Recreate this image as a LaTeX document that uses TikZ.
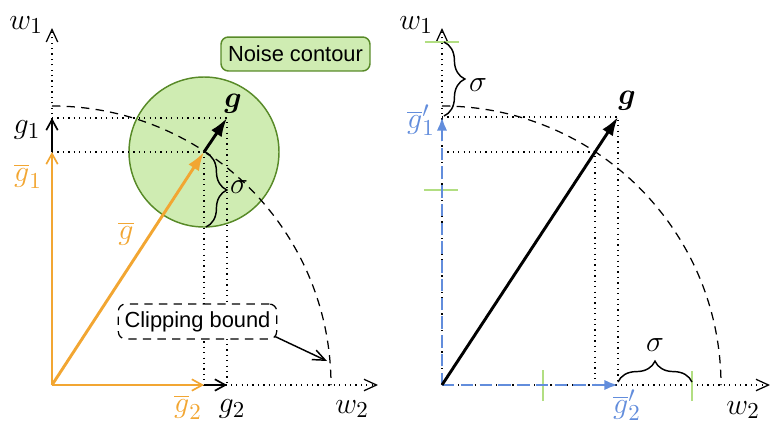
\documentclass[tikz,border=0pt]{standalone}
\usepackage{fontspec}
\usepackage{bm}
\newfontfamily\labelsans{Liberation Sans}
\usetikzlibrary{arrows.meta,decorations.pathreplacing}
\definecolor{gorange}{RGB}{242,166,50}
\definecolor{gblue}{RGB}{98,141,220}
\definecolor{nfill}{RGB}{207,236,178}
\definecolor{nborder}{RGB}{88,138,40}
\definecolor{tickgreen}{RGB}{178,222,130}
\begin{document}
\begin{tikzpicture}[x=0.48pt,y=0.48pt,
  axis/.style={line width=0.6pt, dotted, -{Straight Barb[length=6pt,width=5.5pt]}},
  guide/.style={line width=0.6pt, dotted},
  bound/.style={line width=0.6pt, dash pattern=on 4pt off 3pt},
  comp/.style={line width=0.8pt, -{Straight Barb[length=5pt,width=5.5pt]}},
  vec/.style={line width=1.4pt, -{Latex[length=9pt,width=6pt]}},
  bluevec/.style={gblue, line width=1.4pt, dash pattern=on 6pt off 3pt, -{Latex[length=6.5pt,width=5pt]}},
  ticker/.style={tickgreen, line width=1.4pt},
  sbrace/.style={decorate, decoration={brace, amplitude=10pt}, line width=0.7pt},
  lbl/.style={font=\fontsize{15}{17}\selectfont, inner sep=1pt},
  textbox/.style={font=\labelsans\fontsize{10.5}{12}\selectfont, inner sep=2pt, rounded corners=3.5pt}
]
\path[use as bounding box] (0,0) rectangle (776,431);

% ---------------- left panel ----------------
\coordinate (O1) at (52,46);
\coordinate (A1) at (52,403);
\coordinate (B1) at (378,46);
\coordinate (gb) at (204,279);
\coordinate (g) at (227,313);
\coordinate (gb1) at (52,279);
\coordinate (g1) at (52,313);
\coordinate (gb2) at (204,46);
\coordinate (g2) at (227,46);
\coordinate (clipend) at (327,70);

\node[circle, fill=nfill, draw=nborder, line width=0.7pt, minimum size=72pt, inner sep=0pt] (noise) at (gb) {};
\node[textbox, fill=nfill, draw=nborder, line width=0.7pt, minimum width=71.5pt, minimum height=16.3pt] (nc) at (295.5,377) {Noise contour};

\draw[axis] (O1) -- (A1);
\draw[axis] (O1) -- (B1);
\draw[bound] (52,325) arc[start angle=90, end angle=0, radius=279];

\draw[guide] (g1) -- (g) -- (g2);
\draw[guide] (gb1) -- (gb) -- (gb2);

\node[textbox, fill=white, draw, bound, minimum width=76pt, minimum height=16.8pt] (clip) at (197.5,109.5) {Clipping bound};
\draw[line width=0.7pt, -{Straight Barb[length=6pt,width=5pt]}] ([shift={(-2,3)}]clip.south east) -- (clipend);

\draw[comp, gorange] (O1) -- (gb1);
\draw[comp] (gb1) -- (g1);
\draw[comp, gorange] (O1) -- (gb2);
\draw[comp] (gb2) -- (g2);
\draw[vec, gorange] (O1) -- (gb);
\draw[vec] (gb) -- (g);

\draw[sbrace] (206,278) -- (206,204);

\node[lbl] (lw1) at (26,406) {$w_1$};
\node[lbl] (lw2) at (352,22) {$w_2$};
\node[lbl] (lg1) at (27,301) {$g_1$};
\node[lbl, text=gorange] (lgb1) at (28,255) {$\overline{g}_1$};
\node[lbl, text=gorange] (lgb2) at (188,24) {$\overline{g}_2$};
\node[lbl] (lg2) at (232,22) {$g_2$};
\node[lbl] (lg) at (233,327) {$\bm{g}$};
\node[lbl, text=gorange] (lgb) at (126,197) {$\overline{g}$};
\node[lbl] (ls1) at (239,244) {$\sigma$};

% ---------------- right panel ----------------
\coordinate (O2) at (442,46);
\coordinate (A2) at (442,403);
\coordinate (B2) at (770,46);
\coordinate (G) at (618,314);
\coordinate (Gb) at (595,279);
\coordinate (G1) at (442,314);
\coordinate (Gb1) at (442,279);
\coordinate (G2) at (618,46);
\coordinate (Gb2) at (595,46);

\draw[axis] (O2) -- (A2);
\draw[axis] (O2) -- (B2);
\draw[bound] (442,325) arc[start angle=90, end angle=0, radius=279];
\draw[guide] (G1) -- (G) -- (G2);
\draw[guide] (Gb1) -- (Gb) -- (Gb2);

\draw[ticker] (425,389) -- (459,389);
\draw[ticker] (424,241) -- (458,241);
\draw[ticker] (543,30) -- (543,61);
\draw[ticker] (692,30) -- (692,60);

\draw[bluevec] (O2) -- (G1);
\draw[bluevec] (O2) -- (G2);
\draw[vec] (O2) -- (G);

\draw[sbrace] (444,389) -- (444,315);
\draw[sbrace] (618,49) -- (692,49);

\node[lbl] (rw1) at (416,406) {$w_1$};
\node[lbl] (rw2) at (743,21) {$w_2$};
\node[lbl, text=gblue] (rgb1) at (421,311) {$\overline{g}'_1$};
\node[lbl, text=gblue] (rgb2) at (627,26) {$\overline{g}'_2$};
\node[lbl] (rg) at (627,330) {$\bm{g}$};
\node[lbl] (rs1) at (478,346) {$\sigma$};
\node[lbl] (rs2) at (655,86) {$\sigma$};
\end{tikzpicture}
\end{document}
